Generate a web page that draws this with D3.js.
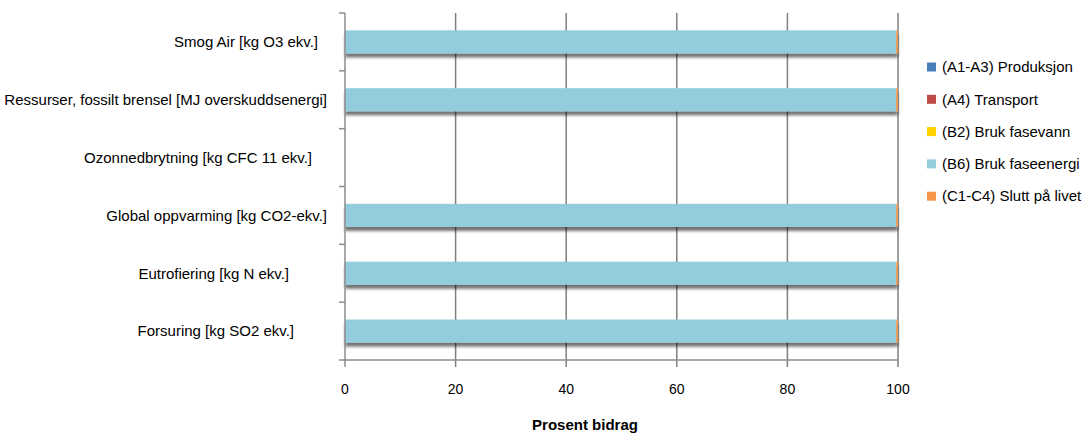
<!DOCTYPE html>
<html>
<head>
<meta charset="utf-8">
<script src="https://d3js.org/d3.v7.min.js"></script>
<style>
    body { margin: 0; background: #fff; }
    svg { font-family: "Liberation Sans", Arial, sans-serif; }
    .cat-label { font-size: 15px; fill: #000; }
    .tick-label { font-size: 14px; fill: #000; }
    .legend text { font-size: 15px; fill: #000; }
</style>
</head>
<body>
<div id="chart"></div>
<script>
// categories, top to bottom
const categories = [
    "Smog Air [kg O3 ekv.]",
    "Ressurser, fossilt brensel [MJ overskuddsenergi]",
    "Ozonnedbrytning [kg CFC 11 ekv.]",
    "Global oppvarming [kg CO2-ekv.]",
    "Eutrofiering [kg N ekv.]",
    "Forsuring [kg SO2 ekv.]"
];

const seriesNames = [
    "(A1-A3) Produksjon",
    "(A4) Transport",
    "(B2) Bruk fasevann",
    "(B6) Bruk faseenergi",
    "(C1-C4) Slutt på livet"
];

// percent contribution per category (same order as categories)
const produksjon   = [0, 0, 0, 0, 0, 0];
const transport    = [0, 0, 0, 0, 0, 0];
const brukVann     = [0, 0, 0, 0, 0, 0];
const brukEnergi   = [99.7, 99.7, 0, 99.7, 99.7, 99.7];
const sluttLivet   = [0.3, 0.3, 0, 0.3, 0.3, 0.3];

const xTicks = [0, 20, 40, 60, 80, 100];

const colors = ["#4a7ebb", "#be4b48", "#ffd200", "#93cddd", "#f79646"];

// label right edge relative to the axis (Excel left these labels ragged)
const labelEnd = [-27, -18, -33, -18, -56, -51];

const seriesValues = [produksjon, transport, brukVann, brukEnergi, sluttLivet];
const rows = categories.map((c, i) => {
    const r = { cat: c };
    seriesNames.forEach((s, j) => r[s] = seriesValues[j][i]);
    return r;
});

const W = 1084, H = 433;
const margin = { top: 13, left: 345 };
const width = 898 - 345;
const height = 360 - 13;

const svg = d3.select("#chart").append("svg")
    .attr("width", W)
    .attr("height", H);

const defs = svg.append("defs");
const shadow = defs.append("filter")
    .attr("id", "shadow")
    .attr("x", "-5%").attr("y", "-20%")
    .attr("width", "110%").attr("height", "160%");
shadow.append("feGaussianBlur").attr("in", "SourceAlpha").attr("stdDeviation", 1.8).attr("result", "blur");
shadow.append("feOffset").attr("in", "blur").attr("dy", 3.5).attr("result", "off");
shadow.append("feComponentTransfer").attr("in", "off").attr("result", "soft")
    .append("feFuncA").attr("type", "linear").attr("slope", 0.55);
const merge = shadow.append("feMerge");
merge.append("feMergeNode").attr("in", "soft");
merge.append("feMergeNode").attr("in", "SourceGraphic");

const g = svg.append("g")
    .attr("transform", `translate(${margin.left},${margin.top})`);

const x = d3.scaleLinear().domain([0, 100]).range([0, width]);
const y = d3.scaleBand().domain(categories).range([0, height]).paddingInner(0.6).paddingOuter(0.3);
const yEdge = d3.scaleLinear().domain([0, categories.length]).range([0, height]);

// vertical gridlines
g.append("g").selectAll("line")
    .data(xTicks.slice(1))
    .enter().append("line")
    .attr("x1", d => x(d)).attr("x2", d => x(d))
    .attr("y1", 0).attr("y2", height + 7)
    .attr("stroke", "#7f7f7f")
    .attr("stroke-width", 1.5);

// stacked bars
const stack = d3.stack().keys(seriesNames)(rows);
g.append("g").attr("filter", "url(#shadow)")
    .selectAll("g")
    .data(stack)
    .enter().append("g")
    .attr("fill", (d, i) => colors[i])
    .selectAll("rect")
    .data(d => d)
    .enter().append("rect")
    .attr("x", d => x(d[0]))
    .attr("y", d => y(d.data.cat))
    .attr("width", d => Math.max(0, x(d[1]) - x(d[0])))
    .attr("height", y.bandwidth());

// x axis line and ticks
g.append("line")
    .attr("x1", 0).attr("x2", width)
    .attr("y1", height).attr("y2", height)
    .attr("stroke", "#8c8c8c").attr("stroke-width", 1.5);
g.append("line")
    .attr("x1", 0).attr("x2", 0)
    .attr("y1", height).attr("y2", height + 7)
    .attr("stroke", "#8c8c8c").attr("stroke-width", 1.5);

g.append("g").selectAll("text")
    .data(xTicks)
    .enter().append("text")
    .attr("class", "tick-label")
    .attr("x", d => x(d))
    .attr("y", height + 34)
    .attr("text-anchor", "middle")
    .text(d => d);

// y axis line and ticks
g.append("line")
    .attr("x1", 0).attr("x2", 0)
    .attr("y1", 0).attr("y2", height)
    .attr("stroke", "#8c8c8c").attr("stroke-width", 1.5);
g.append("g").selectAll("line")
    .data(d3.range(categories.length + 1))
    .enter().append("line")
    .attr("x1", -6).attr("x2", 0)
    .attr("y1", d => yEdge(d)).attr("y2", d => yEdge(d))
    .attr("stroke", "#8c8c8c").attr("stroke-width", 1.5);

// category labels
g.append("g").selectAll("text")
    .data(categories)
    .enter().append("text")
    .attr("class", "cat-label")
    .attr("x", (d, i) => labelEnd[i])
    .attr("y", d => y(d) + y.bandwidth() / 2)
    .attr("dy", "0.35em")
    .attr("text-anchor", "end")
    .text(d => d);

// x axis title
svg.append("text")
    .attr("x", 585)
    .attr("y", 430)
    .attr("text-anchor", "middle")
    .attr("font-size", 15)
    .attr("font-weight", "bold")
    .text("Prosent bidrag");

// legend
const legend = svg.append("g")
    .attr("class", "legend")
    .attr("transform", "translate(927,67)")
    .selectAll("g")
    .data(seriesNames)
    .enter().append("g")
    .attr("transform", (d, i) => `translate(0,${i * 32.3})`);

legend.append("rect")
    .attr("x", 0).attr("y", -4.5)
    .attr("width", 9).attr("height", 9)
    .attr("fill", (d, i) => colors[i]);

legend.append("text")
    .attr("x", 15)
    .attr("y", 0)
    .attr("dy", "0.35em")
    .text(d => d);
</script>
</body>
</html>
